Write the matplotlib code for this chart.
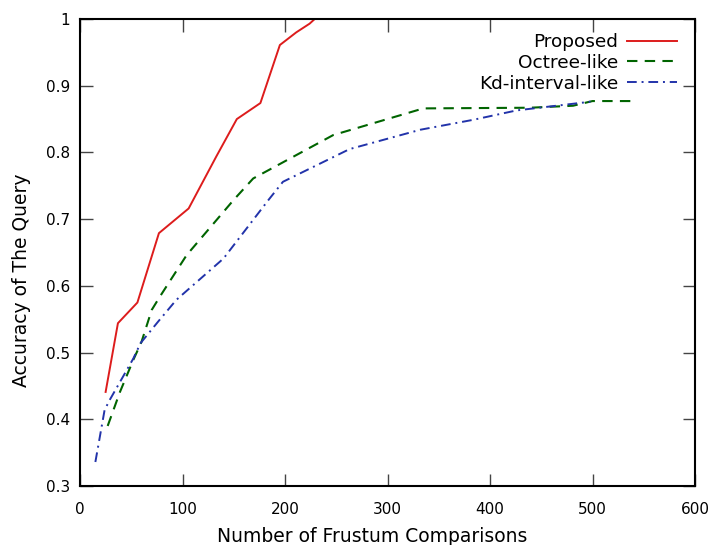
import matplotlib.pyplot as plt
import numpy as np
from matplotlib import rcParams

rcParams['font.family'] = 'DejaVu Sans'
rcParams['font.size'] = 11

# --- data ---
prop_x = [25, 37, 56, 77, 106, 133, 153, 176, 195, 211, 224, 229, 237]
prop_y = [0.441, 0.544, 0.575, 0.679, 0.716, 0.794, 0.850, 0.874, 0.961, 0.980, 0.993, 1.0, 1.0]

oct_x = [27, 39, 52, 60, 70, 78, 104, 150, 169, 247, 335, 439, 481, 500, 538]
oct_y = [0.390, 0.441, 0.489, 0.516, 0.564, 0.584, 0.646, 0.729, 0.761, 0.826, 0.866, 0.867, 0.870, 0.877, 0.877]

kd_x = [15, 24, 29, 42, 52, 59, 76, 94, 140, 184, 198, 263, 332, 384, 426, 498]
kd_y = [0.336, 0.414, 0.429, 0.464, 0.491, 0.514, 0.546, 0.579, 0.641, 0.729, 0.756, 0.805, 0.834, 0.849, 0.863, 0.876]

fig = plt.figure(figsize=(7.12, 5.45), dpi=100)
ax = fig.add_axes([80/712, 1-486/545, 615/712, 467/545])

ax.plot(prop_x, prop_y, color='#dd1c1c', lw=1.4, label='Proposed')
ax.plot(oct_x, oct_y, color='#006400', lw=1.5, dashes=(5, 3.5), label='Octree-like')
ax.plot(kd_x, kd_y, color='#2233aa', lw=1.4, dashes=(5, 2.5, 1, 2.5), label='Kd-interval-like')

ax.set_xlim(0, 600)
ax.set_ylim(0.3, 1.0)
ax.set_xticks(np.arange(0, 601, 100))
ax.set_yticks(np.arange(0.3, 1.01, 0.1))
ax.set_yticklabels(['0.3', '0.4', '0.5', '0.6', '0.7', '0.8', '0.9', '1'])
ax.tick_params(direction='in', length=9, width=1, color='#444444',
               top=True, right=True)
ax.tick_params(axis='x', pad=11.5)
ax.tick_params(axis='y', pad=7.2)
for s in ax.spines.values():
    s.set_linewidth(1.5)

ax.set_xlabel('Number of Frustum Comparisons', fontsize=13.5)
ax.set_ylabel('Accuracy of The Query', fontsize=13.5, labelpad=10.6)
ax.xaxis.set_label_coords(0.475, -0.088)
ax.yaxis.get_label().set_y(0.44)

ax.legend(loc='upper right', frameon=False, markerfirst=False, fontsize=13.3,
          handlelength=2.7, handletextpad=0.49, labelspacing=0.16,
          borderpad=0, borderaxespad=0, bbox_to_anchor=(1 - 18/615, 1 - 14/467))

fig.savefig('out.png', dpi=100)
